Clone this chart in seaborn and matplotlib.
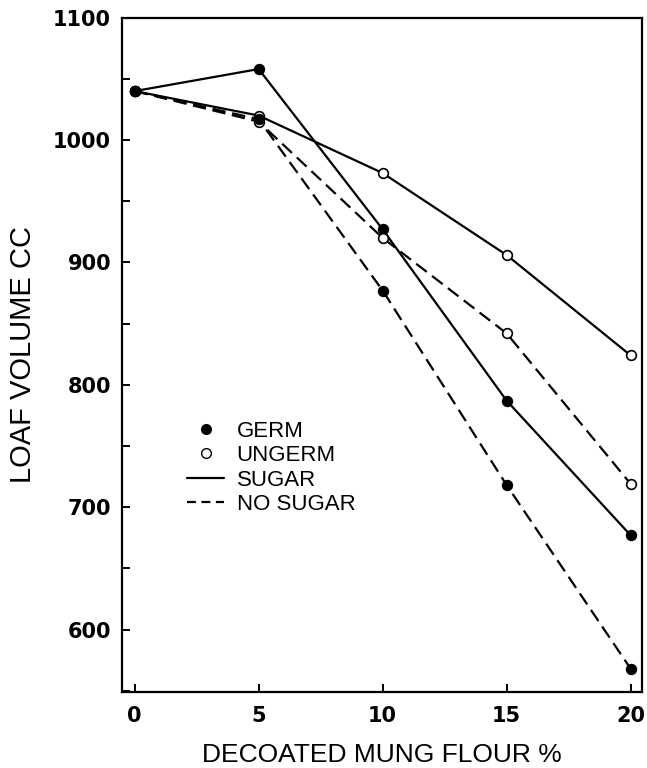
import pandas as pd
import numpy as np
import matplotlib.pyplot as plt
import seaborn as sns
from matplotlib.lines import Line2D

sns.set_style("white")
plt.rcParams['font.family'] = ['DejaVu Sans']
plt.rcParams['text.color'] = 'black'
plt.rcParams['axes.labelcolor'] = 'black'
plt.rcParams['xtick.color'] = 'black'
plt.rcParams['ytick.color'] = 'black'

# decoated mung flour levels (%)
flour = [0, 5, 10, 15, 20]
# loaf volume (cc)
germ_sugar = [1040, 1058, 927, 787, 677]
ungerm_sugar = [1040, 1020, 973, 906, 824]
ungerm_nosugar = [1040, 1015, 920, 842, 719]
germ_nosugar = [1040, 1017, 877, 718, 568]

series = [
    ('germ', 'sugar', germ_sugar),
    ('ungerm', 'sugar', ungerm_sugar),
    ('ungerm', 'no sugar', ungerm_nosugar),
    ('germ', 'no sugar', germ_nosugar),
]

fig = plt.figure(figsize=[6.47, 7.68], dpi=100)
ax = fig.add_axes([0.189, 0.099, 0.803, 0.878])

for flour_type, sugar, vals in series:
    df = pd.DataFrame({'flour': flour, 'volume': vals})
    face = 'black' if flour_type == 'germ' else 'white'
    ls = '-' if sugar == 'sugar' else (0, (6, 3))
    sns.lineplot(data=df, x='flour', y='volume', ax=ax, color='black',
                 linewidth=1.6, linestyle=ls, marker='o', markersize=7,
                 markerfacecolor=face, markeredgecolor='black',
                 markeredgewidth=1.2, sort=False)

ax.set_xlim(-0.5, 20.45)
ax.set_ylim(549, 1100)
ax.set_xticks([0, 5, 10, 15, 20])
ax.set_xticklabels(['0', '5', '10', '15', '20'])
ax.set_yticks(np.arange(600, 1101, 100))
ax.set_yticks(np.arange(550, 1100, 100), minor=True)
ax.tick_params(axis='both', which='both', direction='in', length=6, width=1.4,
               labelsize=15, pad=8, bottom=True, left=True, top=False, right=False)
ax.tick_params(axis='x', pad=10)
for lab in ax.get_xticklabels() + ax.get_yticklabels():
    lab.set_fontweight('bold')
for s in ax.spines.values():
    s.set_linewidth(1.6)
    s.set_color('black')

ax.set_xlabel('DECOATED MUNG FLOUR %', fontsize=19, family='Liberation Sans', labelpad=12)
ax.set_ylabel('LOAF VOLUME CC', fontsize=21, family='Liberation Sans', labelpad=12)

handles = [
    Line2D([], [], color='black', marker='o', linestyle='none', markersize=7),
    Line2D([], [], color='black', marker='o', linestyle='none', markersize=7,
           markerfacecolor='white'),
    Line2D([], [], color='black', linewidth=1.6),
    Line2D([], [], color='black', linewidth=1.6, linestyle=(0, (4, 2.5))),
]
ax.legend(handles, ['GERM', 'UNGERM', 'SUGAR', 'NO SUGAR'], frameon=False,
          loc='upper left', bbox_to_anchor=(0.124, 0.402), handlelength=1.7,
          handletextpad=0.55, labelspacing=0.15, borderpad=0, borderaxespad=0,
          prop={'family': 'Liberation Sans', 'size': 16})

plt.savefig('out.png', dpi=100)
